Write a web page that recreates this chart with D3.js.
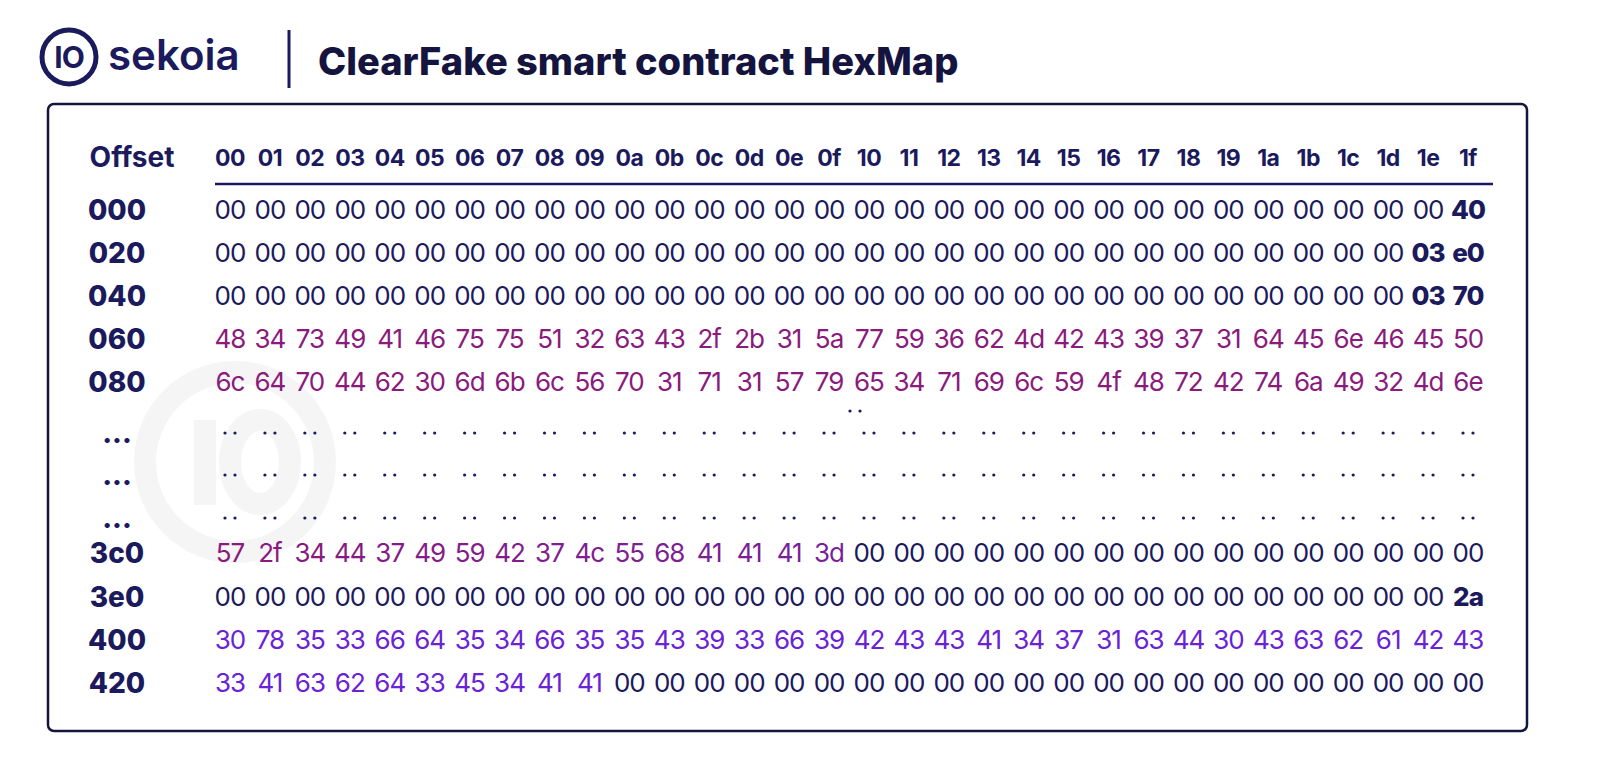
<!DOCTYPE html>
<html><head><meta charset="utf-8">
<script src="https://cdn.jsdelivr.net/npm/d3@7"></script>
<style>body{margin:0;background:#fff}svg{display:block}</style>
</head><body><svg id="c" width="1600" height="782"></svg>
<script>
const columns = ["00","01","02","03","04","05","06","07","08","09","0a","0b","0c","0d","0e","0f","10","11","12","13","14","15","16","17","18","19","1a","1b","1c","1d","1e","1f"];
const offsets = ["000","020","040","060","080","...","...","...","3c0","3e0","400","420"];
const Z = n => Array(n).fill("00");
const row000 = [...Z(31),"40"];
const row020 = [...Z(30),"03","e0"];
const row040 = [...Z(30),"03","70"];
const row060 = ["48","34","73","49","41","46","75","75","51","32","63","43","2f","2b","31","5a","77","59","36","62","4d","42","43","39","37","31","64","45","6e","46","45","50"];
const row080 = ["6c","64","70","44","62","30","6d","6b","6c","56","70","31","71","31","57","79","65","34","71","69","6c","59","4f","48","72","42","74","6a","49","32","4d","6e"];
const row3c0 = ["57","2f","34","44","37","49","59","42","37","4c","55","68","41","41","41","3d",...Z(16)];
const row3e0 = [...Z(31),"2a"];
const row400 = ["30","78","35","33","66","64","35","34","66","35","35","43","39","33","66","39","42","43","43","41","34","37","31","63","44","30","43","63","62","61","42","43"];
const row420 = ["33","41","63","62","64","33","45","34","41","41",...Z(22)];
const dotsRow = Array(32).fill("..");
const rowsData = [row000,row020,row040,row060,row080,dotsRow,dotsRow,dotsRow,row3c0,row3e0,row400,row420];
const rowKinds = ["z","z","z","m","m","d","d","d","m16","z","v","v10"];
const boldCells = {"0":[31],"1":[30,31],"2":[30,31],"9":[31]};

const NAVY="#1b1a5c", MAG="#8a1a7c", VIO="#6a22d6";
const svg=d3.select("#c");
const F="Inter, 'Open Sans', sans-serif";

// watermark (shapes)
const wm=svg.append("g").attr("opacity",0.05).attr("fill","none").attr("stroke","#555").attr("stroke-width",22);
wm.append("circle").attr("cx",235).attr("cy",462).attr("r",90);
wm.append("line").attr("x1",205).attr("x2",205).attr("y1",420).attr("y2",505);
wm.append("ellipse").attr("cx",260).attr("cy",462).attr("rx",30).attr("ry",42);

// header
svg.append("circle").attr("cx",69).attr("cy",57).attr("r",27).attr("fill","none").attr("stroke",NAVY).attr("stroke-width",5);
svg.append("text").attr("x",69).attr("y",68).attr("text-anchor","middle").attr("font-family",F).attr("font-weight",700).attr("font-size",30).attr("fill",NAVY).attr("letter-spacing",-1).text("IO");
svg.append("text").attr("x",108).attr("y",70).attr("font-family",F).attr("font-weight",600).attr("font-size",42).attr("fill",NAVY).text("sekoia");
svg.append("line").attr("x1",289).attr("x2",289).attr("y1",30).attr("y2",88).attr("stroke",NAVY).attr("stroke-width",3);
svg.append("text").attr("x",318).attr("y",75).attr("font-family",F).attr("font-weight",800).attr("font-size",38).attr("fill","#15143f").text("ClearFake smart contract HexMap");

svg.append("rect").attr("x",48).attr("y",104).attr("width",1479).attr("height",627).attr("rx",6).attr("fill","none").attr("stroke","#15143f").attr("stroke-width",2.5);

const x=d3.scalePoint().domain(d3.range(32)).range([230,1468]);
const yPos=[210,253,296,339,382,433,475,518,553,597,640,683];
const y=d3.scaleOrdinal().domain(d3.range(12)).range(yPos);

svg.append("text").attr("x",132).attr("y",167).attr("text-anchor","middle").attr("font-family",F).attr("font-weight",700).attr("font-size",28).attr("fill",NAVY).text("Offset");
svg.append("g").selectAll("text").data(columns).join("text")
 .attr("x",(d,i)=>x(i)).attr("y",166).attr("text-anchor","middle").attr("font-family",F).attr("font-weight",700).attr("font-size",23).attr("letter-spacing",-0.5).attr("fill",NAVY).text(d=>d);
svg.append("line").attr("x1",215).attr("x2",1493).attr("y1",184).attr("y2",184).attr("stroke",NAVY).attr("stroke-width",2.5);

svg.append("g").selectAll("text").data(offsets).join("text")
 .attr("x",117).attr("y",(d,i)=>y(i)+10).attr("text-anchor","middle").attr("font-family",F).attr("font-weight",800).attr("font-size",28).attr("fill",NAVY).text(d=>d);

function color(r,c){const k=rowKinds[r];
 if(k==="z"||k==="d")return NAVY; if(k==="m")return MAG; if(k==="v")return VIO;
 if(k==="m16")return c<16?d3.interpolateRgb(MAG,"#7a1f9c")(c/15):NAVY;
 if(k==="v10")return c<10?VIO:NAVY;}
const cells=[],dots=[];
rowsData.forEach((row,r)=>row.forEach((v,c)=>(rowKinds[r]==="d"?dots:cells).push({r,c,v})));
svg.append("g").selectAll("text").data(cells).join("text")
 .attr("x",d=>x(d.c)).attr("y",d=>y(d.r)+9).attr("text-anchor","middle").attr("font-family",F)
 .attr("font-size",26)
 .attr("font-weight",d=>(boldCells[d.r]||[]).includes(d.c)?800:400)
 .attr("fill",d=>color(d.r,d.c)).attr("letter-spacing",-1).text(d=>d.v);
const dotPts=[];dots.forEach(d=>{dotPts.push({x:x(d.c)-5,y:y(d.r)});dotPts.push({x:x(d.c)+5,y:y(d.r)});});
dotPts.push({x:850,y:411},{x:860,y:411});
svg.append("g").selectAll("circle").data(dotPts).join("circle").attr("cx",d=>d.x).attr("cy",d=>d.y).attr("r",1.6).attr("fill",NAVY);
</script></body></html>
